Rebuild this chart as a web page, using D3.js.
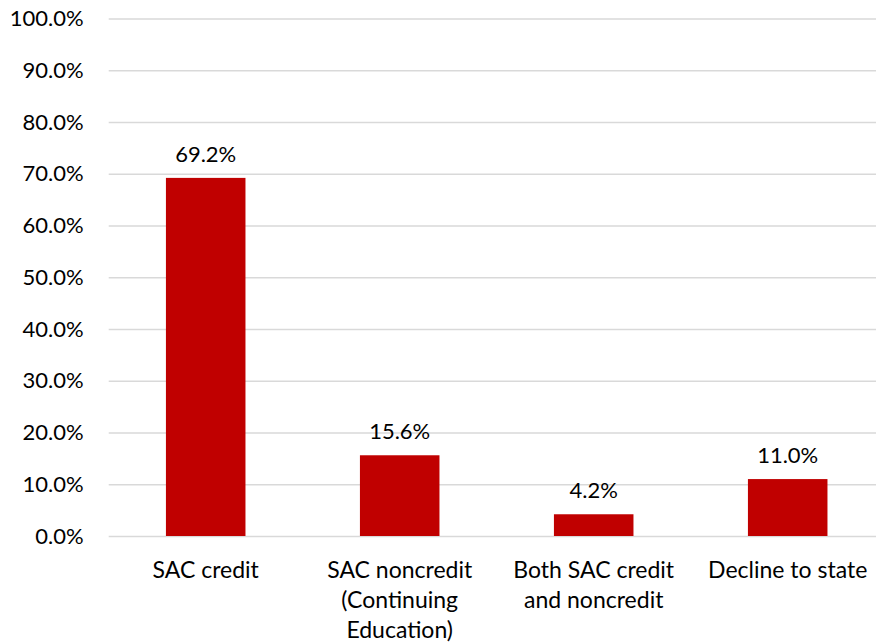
<!DOCTYPE html>
<html lang="en">
	<head>
		<meta charset="utf-8">
		<title>SAC enrollment status</title>
		<style type="text/css">
			body { margin: 0; background: #fff; }
			svg { display: block; }
			text { font-family: Lato, "Open Sans", sans-serif; fill: #000; font-size: 22px; }
			.xlabel { font-size: 23px; }
			.bar { fill: #C00000; }
			.grid line { stroke: #D9D9D9; stroke-width: 1.5; }
			.grid path { display: none; }
		</style>
	</head>
	<body>

		<script src="https://cdn.jsdelivr.net/npm/d3@7"></script>
		<script>

			//Chart data
			var categories = [
				["SAC credit"],
				["SAC noncredit", "(Continuing", "Education)"],
				["Both SAC credit", "and noncredit"],
				["Decline to state"]
			];
			var values = [69.2, 15.6, 4.2, 11.0];
			var yTicks = [0, 10, 20, 30, 40, 50, 60, 70, 80, 90, 100];

			//Dimensions
			var margin = {top: 18.5, left: 108.7},
			    width = 776,
			    height = 536 - margin.top;

			var svg = d3.select("body").append("svg")
			    .attr("width", 876)
			    .attr("height", 643)
			  .append("g")
			    .attr("transform", "translate(" + margin.left + "," + margin.top + ")");

			var xScale = d3.scaleBand()
			    .domain(d3.range(categories.length))
			    .range([0, width])
			    .paddingInner(0.59)
			    .paddingOuter(0.295);

			var yScale = d3.scaleLinear()
			    .domain([0, 100])
			    .range([height, 0]);

			//Gridlines
			svg.append("g")
			    .attr("class", "grid")
			    .call(d3.axisLeft(yScale).tickValues(yTicks).tickSize(-width).tickFormat(""));

			//Y tick labels
			svg.selectAll(".ylabel")
			    .data(yTicks)
			  .enter().append("text")
			    .attr("class", "ylabel")
			    .attr("text-anchor", "end")
			    .attr("x", -25)
			    .attr("y", function(d) { return yScale(d); })
			    .attr("dy", "0.35em")
			    .text(function(d) { return d.toFixed(1) + "%"; });

			//Bars
			svg.selectAll(".bar")
			    .data(values)
			  .enter().append("rect")
			    .attr("class", "bar")
			    .attr("x", function(d, i) { return xScale(i); })
			    .attr("width", xScale.bandwidth())
			    .attr("y", function(d) { return yScale(d); })
			    .attr("height", function(d) { return height - yScale(d); });

			//Value labels
			svg.selectAll(".vlabel")
			    .data(values)
			  .enter().append("text")
			    .attr("class", "vlabel")
			    .attr("text-anchor", "middle")
			    .attr("x", function(d, i) { return xScale(i) + xScale.bandwidth() / 2; })
			    .attr("y", function(d) { return yScale(d) - 16; })
			    .text(function(d) { return d.toFixed(1) + "%"; });

			//Category labels
			var cats = svg.selectAll(".xlabel")
			    .data(categories)
			  .enter().append("text")
			    .attr("class", "xlabel")
			    .attr("text-anchor", "middle")
			    .attr("transform", function(d, i) {
			      return "translate(" + (xScale(i) + xScale.bandwidth() / 2) + "," + (height + 42) + ")";
			    });

			cats.selectAll("tspan")
			    .data(function(d) { return d; })
			  .enter().append("tspan")
			    .attr("x", 0)
			    .attr("y", function(d, i) { return i * 30; })
			    .text(function(d) { return d; });

		</script>
	</body>
</html>
